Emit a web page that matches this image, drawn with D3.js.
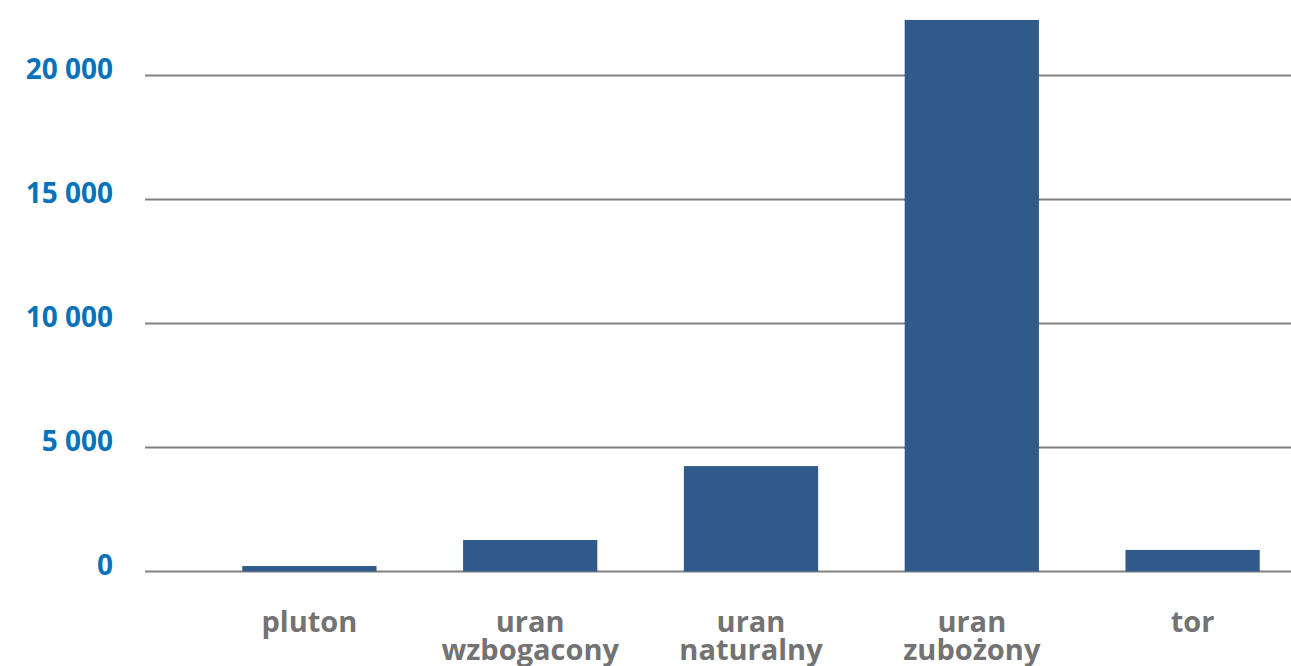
<!DOCTYPE html>
<html>
<head>
<meta charset="utf-8">
<script src="https://cdn.jsdelivr.net/npm/d3@7"></script>
<style>
  html, body { margin: 0; padding: 0; background: #ffffff; }
  svg { display: block; }
</style>
</head>
<body>
<svg id="chart" width="1291" height="666"></svg>
<script>
// Quantities by material
const categories = ["pluton", "uran\nwzbogacony", "uran\nnaturalny", "uran\nzubożony", "tor"];
const values = [220, 1270, 4250, 22240, 870];
const yTicks = [0, 5000, 10000, 15000, 20000];

const svg = d3.select("#chart");

const gridLeft = 145, gridRight = 1291;
const y = d3.scaleLinear().domain([0, 20000]).range([571.5, 75.5]);
const x = d3.scaleBand().domain(categories).range([199, 1303]).paddingInner(0.392).paddingOuter(0.196);

const fmt = v => d3.format(",")(v).replace(/,/g, " ");

// horizontal gridlines
svg.append("g")
  .selectAll("line")
  .data(yTicks)
  .join("line")
  .attr("x1", gridLeft)
  .attr("x2", gridRight)
  .attr("y1", d => y(d))
  .attr("y2", d => y(d))
  .attr("stroke", "#808080")
  .attr("stroke-width", 2);

// y tick labels
svg.append("g")
  .selectAll("text")
  .data(yTicks)
  .join("text")
  .attr("x", 113)
  .attr("y", d => y(d) - 4)
  .attr("text-anchor", "end")
  .attr("dominant-baseline", "middle")
  .attr("font-family", "'Open Sans', sans-serif")
  .attr("font-weight", 700)
  .attr("font-size", 28)
  .attr("fill", "#0a72ba")
  .text(d => fmt(d));

// bars
svg.append("g")
  .selectAll("rect")
  .data(categories)
  .join("rect")
  .attr("x", d => x(d))
  .attr("width", x.bandwidth())
  .attr("y", (d, i) => y(values[i]))
  .attr("height", (d, i) => y(0) - y(values[i]))
  .attr("fill", "#2f5a89");

// category labels
const labels = svg.append("g")
  .selectAll("text")
  .data(categories)
  .join("text")
  .attr("x", d => x(d) + x.bandwidth() / 2)
  .attr("y", 632)
  .attr("text-anchor", "middle")
  .attr("font-family", "'Open Sans', sans-serif")
  .attr("font-weight", 700)
  .attr("font-size", 29)
  .attr("fill", "#737373");

labels.each(function(d) {
  const t = d3.select(this);
  d.split("\n").forEach((line, i) => {
    t.append("tspan")
      .attr("x", x(d) + x.bandwidth() / 2)
      .attr("dy", i === 0 ? 0 : 28)
      .text(line);
  });
});
</script>
</body>
</html>
